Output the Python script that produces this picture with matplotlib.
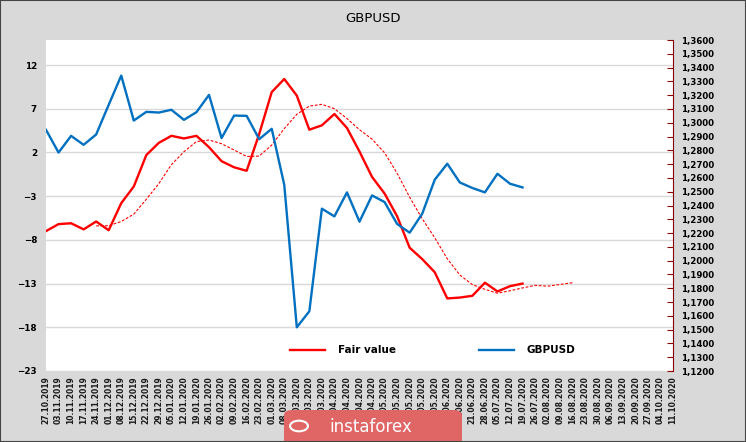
import matplotlib
matplotlib.use('Agg')
import matplotlib.pyplot as plt
import numpy as np
from matplotlib.patches import FancyBboxPatch, Circle, Rectangle
from matplotlib.ticker import FuncFormatter

# weekly categories
dates = ['27.10.2019', '03.11.2019', '10.11.2019', '17.11.2019', '24.11.2019',
         '01.12.2019', '08.12.2019', '15.12.2019', '22.12.2019', '29.12.2019',
         '05.01.2020', '12.01.2020', '19.01.2020', '26.01.2020', '02.02.2020',
         '09.02.2020', '16.02.2020', '23.02.2020', '01.03.2020', '08.03.2020',
         '15.03.2020', '22.03.2020', '29.03.2020', '05.04.2020', '12.04.2020',
         '19.04.2020', '26.04.2020', '03.05.2020', '10.05.2020', '17.05.2020',
         '24.05.2020', '31.05.2020', '07.06.2020', '14.06.2020', '21.06.2020',
         '28.06.2020', '05.07.2020', '12.07.2020', '19.07.2020', '26.07.2020',
         '02.08.2020', '09.08.2020', '16.08.2020', '23.08.2020', '30.08.2020',
         '06.09.2020', '13.09.2020', '20.09.2020', '27.09.2020', '04.10.2020',
         '11.10.2020']

# left axis
fair_value = [-7.0, -6.2, -6.1, -6.8, -5.9, -6.9, -3.8, -1.9, 1.7, 3.1,
              3.9, 3.6, 3.9, 2.6, 1.0, 0.3, -0.1, 4.1, 8.9, 10.4,
              8.5, 4.6, 5.1, 6.4, 4.8, 2.1, -0.8, -2.7, -5.3, -8.9,
              -10.2, -11.7, -14.7, -14.6, -14.4, -12.9, -13.9, -13.3, -13.0]

# dotted moving average, starts at the 5th week
ma_start = 4
fair_value_ma = [-6.4, -6.38, -5.9, -5.06, -3.36, -1.56, 0.6, 2.08, 3.24, 3.42,
                 3.0, 2.28, 1.54, 1.58, 2.84, 4.72, 6.36, 7.3, 7.5, 7.0,
                 5.88, 4.6, 3.52, 1.96, -0.38, -3.12, -5.58, -7.76, -10.16, -12.02,
                 -13.12, -13.66, -14.1, -13.82, -13.5, -13.2, -13.3, -13.1, -12.9]

# right axis
gbpusd = [1.2949, 1.2784, 1.2905, 1.2840, 1.2915, 1.3130, 1.3342, 1.3016, 1.3079, 1.3074,
          1.3094, 1.3021, 1.3077, 1.3202, 1.2889, 1.3052, 1.3050, 1.2881, 1.2956, 1.2550,
          1.1517, 1.1633, 1.2377, 1.2321, 1.2495, 1.2283, 1.2473, 1.2425, 1.2266, 1.2203,
          1.2340, 1.2587, 1.2703, 1.2567, 1.2527, 1.2495, 1.2630, 1.2558, 1.2531]

left_ticks = [-23, -18, -13, -8, -3, 2, 7, 12]
right_ticks = [1.12 + 0.01 * k for k in range(25)]

W, H = 746, 442
fig = plt.figure(figsize=(W / 100, H / 100), dpi=100, facecolor='#d9d9d9')
ax = fig.add_axes([46 / W, 71 / H, 627 / W, 331 / H])
ax.set_facecolor('white')
ax2 = ax.twinx()

l1, = ax.plot(np.arange(len(fair_value)), fair_value, color='#ff0000', lw=1.7,
              label='Fair value', solid_joinstyle='round')
ax.plot(np.arange(ma_start, ma_start + len(fair_value_ma)), fair_value_ma,
        color='#ff0000', lw=0.8, ls=(0, (2.5, 1.5)))
l2, = ax2.plot(np.arange(len(gbpusd)), gbpusd, color='#0070c0', lw=1.7,
               label='GBPUSD', solid_joinstyle='round')

ax.set_xlim(0, len(dates) - 1)
ax.set_ylim(-23, 14.86)
ax2.set_ylim(1.12, 1.36)

ax.set_yticks(left_ticks)
ax.yaxis.grid(True, color='#d9d9d9', lw=1)
ax.set_axisbelow(True)
ax.set_xticks(np.arange(len(dates)))
ax.set_xticklabels(dates, rotation=90, fontsize=5.5, fontweight='bold', color='#1a1a1a')
ax.tick_params(axis='x', length=0, pad=4)
ax.tick_params(axis='y', length=0, pad=6.5, labelsize=6.3)
for lab in ax.get_yticklabels():
    lab.set_fontweight('bold')

for s in ax.spines.values():
    s.set_visible(False)
for s in ['left', 'top', 'bottom']:
    ax2.spines[s].set_visible(False)
ax2.spines['right'].set_color('#8b0000')
ax2.set_yticks(right_ticks)
ax2.yaxis.set_major_formatter(FuncFormatter(lambda v, p: f'{v:.4f}'.replace('.', ',')))
ax2.tick_params(axis='y', direction='in', length=4, color='#8b0000', labelsize=6.2, pad=6)
for lab in ax2.get_yticklabels():
    lab.set_fontweight('bold')

ax2.legend([l1, l2], ['Fair value', 'GBPUSD'], loc='center', bbox_to_anchor=(0.617, 0.063),
           ncol=2, frameon=False, handlelength=3.3, handletextpad=1.25, columnspacing=8,
           prop={'weight': 'bold', 'size': 7.5})

fig.text(0.5, 1 - 18 / H, 'GBPUSD', ha='center', va='center', fontsize=9.5)

# watermark
fig.patches.append(FancyBboxPatch((284 / W, -0.05), 178 / W, 0.05 + 32 / H,
                                  boxstyle='round,pad=0,rounding_size=0.012',
                                  transform=fig.transFigure, facecolor='#e06666',
                                  edgecolor='none'))
fig.patches.append(Circle((299 / W, 1 - 426 / H), 0.012, transform=fig.transFigure,
                          fill=False, edgecolor='white', lw=1.5))
fig.text(371 / W, 1 - 427 / H, 'instaforex', ha='center', va='center', fontsize=12, color='white')

fig.patches.append(Rectangle((0, 0), 1, 1, transform=fig.transFigure, fill=False,
                             edgecolor='#444444', lw=1.5))

fig.savefig('out.png', dpi=100, facecolor=fig.get_facecolor())
